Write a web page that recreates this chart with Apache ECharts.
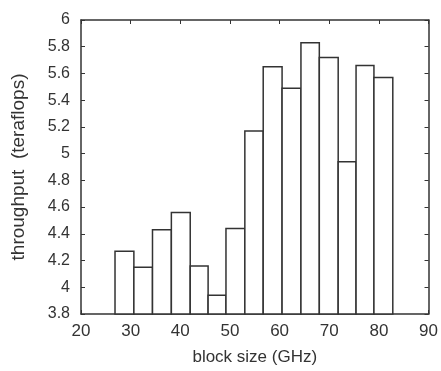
<!DOCTYPE html>
<html>
<head>
<meta charset="utf-8">
<script src="https://cdn.jsdelivr.net/npm/echarts@6/dist/echarts.min.js"></script>
<style>
  html, body { margin: 0; padding: 0; background: #fff; }
  #chart { width: 441px; height: 371px; }
</style>
</head>
<body>
<div id="chart"></div>
<script>
// bin edges along x (GHz), one more than the bars
const binEdges = [26.85, 30.65, 34.4, 38.2, 42.0, 45.6, 49.2, 53.0, 56.7, 60.5, 64.3, 68.0, 71.8, 75.4, 79.0, 82.8];
// bar heights (teraflops)
const throughput = [4.27, 4.15, 4.43, 4.56, 4.16, 3.94, 4.44, 5.17, 5.65, 5.49, 5.83, 5.72, 4.94, 5.66, 5.57];
const xTicks = [20, 90, 10];
const yTicks = [3.8, 6, 0.2];

const bars = throughput.map((v, i) => [binEdges[i], binEdges[i + 1], v]);

const chart = echarts.init(document.getElementById('chart'));

const axisCol = '#333';
const fontFam = 'Liberation Sans, Arial, sans-serif';

const option = {
  animation: false,
  grid: { left: 81, right: 10, top: 20, bottom: 55 },
  xAxis: [
    {
      type: 'value', min: xTicks[0], max: xTicks[1], interval: xTicks[2],
      name: 'block size (GHz)', nameLocation: 'middle', nameGap: 35,
      nameTextStyle: { color: '#333', fontSize: 17, fontFamily: fontFam },
      axisLine: { lineStyle: { color: axisCol, width: 1.5 } },
      axisTick: { inside: true, length: 4, lineStyle: { color: axisCol } },
      axisLabel: { margin: 9, color: '#333', fontSize: 17, fontFamily: fontFam },
      splitLine: { show: false }
    },
    {
      type: 'value', position: 'top', min: xTicks[0], max: xTicks[1], interval: xTicks[2],
      axisLine: { show: true, lineStyle: { color: axisCol, width: 1.5 } },
      axisTick: { inside: true, length: 4, lineStyle: { color: axisCol } },
      axisLabel: { show: false },
      splitLine: { show: false }
    }
  ],
  yAxis: [
    {
      type: 'value', min: yTicks[0], max: yTicks[1], interval: yTicks[2],
      name: 'throughput  (teraflops)', nameLocation: 'middle', nameGap: 53,
      nameTextStyle: { color: '#333', fontSize: 19, fontFamily: fontFam },
      axisLine: { show: true, lineStyle: { color: axisCol, width: 1.5 } },
      axisTick: { show: true, inside: true, length: 4, lineStyle: { color: axisCol } },
      axisLabel: { margin: 11, color: '#333', fontSize: 16, fontFamily: fontFam, formatter: v => String(+v.toFixed(1)) },
      splitLine: { show: false }
    },
    {
      type: 'value', position: 'right', min: yTicks[0], max: yTicks[1], interval: yTicks[2],
      axisLine: { show: true, lineStyle: { color: axisCol, width: 1.5 } },
      axisTick: { show: true, inside: true, length: 4, lineStyle: { color: axisCol } },
      axisLabel: { show: false },
      splitLine: { show: false }
    }
  ],
  series: [
    {
      type: 'custom',
      xAxisIndex: 0,
      yAxisIndex: 0,
      data: bars,
      renderItem: function (params, api) {
        const p0 = api.coord([api.value(0), api.value(2)]);
        const p1 = api.coord([api.value(1), yTicks[0]]);
        return {
          type: 'rect',
          shape: { x: p0[0], y: p0[1], width: p1[0] - p0[0], height: p1[1] - p0[1] },
          style: { fill: '#fff', stroke: '#333', lineWidth: 1.5 }
        };
      }
    }
  ]
};

chart.setOption(option);
</script>
</body>
</html>
